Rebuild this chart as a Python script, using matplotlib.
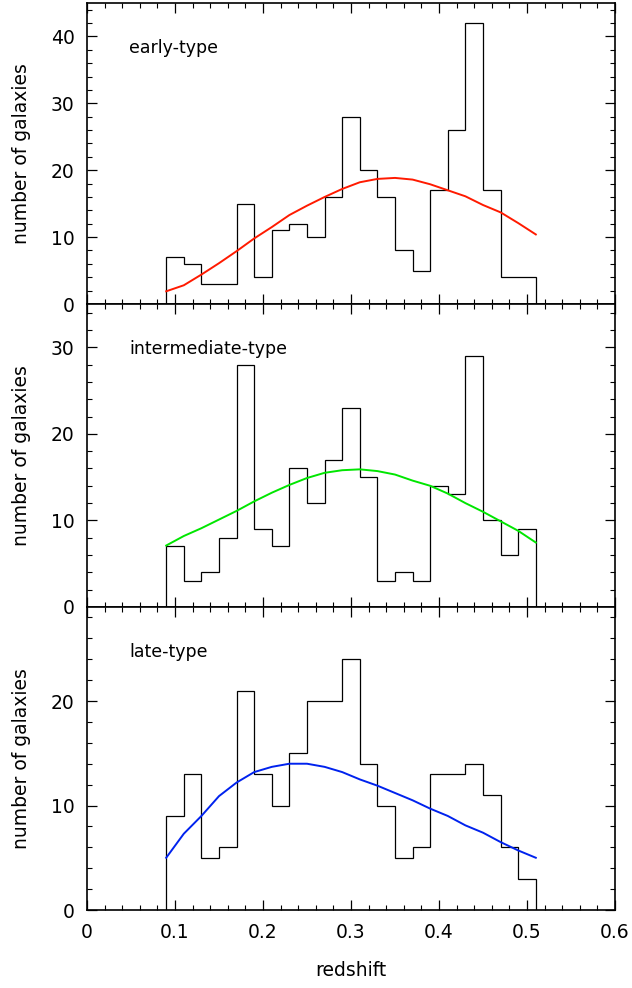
import numpy as np
import matplotlib
matplotlib.use("Agg")
import matplotlib.pyplot as plt
from matplotlib.ticker import MultipleLocator

# bin edges in redshift (21 bins of 0.02)
edges = [0.09, 0.11, 0.13, 0.15, 0.17, 0.19, 0.21, 0.23, 0.25, 0.27, 0.29,
         0.31, 0.33, 0.35, 0.37, 0.39, 0.41, 0.43, 0.45, 0.47, 0.49, 0.51]

early_counts = [7, 6, 3, 3, 15, 4, 11, 12, 10, 16, 28,
                20, 16, 8, 5, 17, 26, 42, 17, 4, 4]
inter_counts = [7, 3, 4, 8, 28, 9, 7, 16, 12, 17, 23,
                15, 3, 4, 3, 14, 13, 29, 10, 6, 9]
late_counts = [9, 13, 5, 6, 21, 13, 10, 15, 20, 20, 24,
               14, 10, 5, 6, 13, 13, 14, 11, 6, 3]

# fitted curves
curve_z = [0.09, 0.11, 0.13, 0.15, 0.17, 0.19, 0.21, 0.23, 0.25, 0.27, 0.29,
           0.31, 0.33, 0.35, 0.37, 0.39, 0.41, 0.43, 0.45, 0.47, 0.49, 0.51]
early_fit = [1.9, 2.8, 4.4, 6.1, 7.9, 9.8, 11.5, 13.3, 14.7, 16.0, 17.2,
             18.2, 18.7, 18.85, 18.6, 17.9, 17.0, 16.1, 14.8, 13.7, 12.1, 10.4]
inter_fit = [7.1, 8.2, 9.1, 10.1, 11.1, 12.2, 13.2, 14.1, 14.9, 15.5, 15.8,
             15.9, 15.7, 15.3, 14.6, 14.0, 13.1, 12.0, 11.0, 9.9, 8.8, 7.45]
late_fit = [5.0, 7.3, 9.0, 10.9, 12.2, 13.2, 13.7, 14.0, 14.0, 13.7, 13.2,
            12.5, 11.9, 11.2, 10.5, 9.7, 9.0, 8.1, 7.4, 6.5, 5.7, 5.0]

labels = ["early-type", "intermediate-type", "late-type"]
ylims = [45, 35, 29]
colors = ["#ff1a00", "#00e600", "#0022ee"]

plt.rcParams["font.family"] = ["DejaVu Sans"]
plt.rcParams["font.size"] = 13.5

fig = plt.figure(figsize=(6.32, 9.88), dpi=100)
left, width = 87 / 632, 528 / 632
panels = [(3, 304), (304, 607), (607, 910)]

counts = [early_counts, inter_counts, late_counts]
fits = [early_fit, inter_fit, late_fit]

for i, (top, bot) in enumerate(panels):
    ax = fig.add_axes([left, 1 - bot / 988, width, (bot - top) / 988])
    ax.stairs(counts[i], edges, color="black", linewidth=0.9)
    ax.plot(curve_z, fits[i], color=colors[i], linewidth=1.4)
    ax.set_xlim(0, 0.6)
    ax.set_ylim(0, ylims[i])
    ax.xaxis.set_major_locator(MultipleLocator(0.1))
    ax.xaxis.set_minor_locator(MultipleLocator(0.02))
    ax.yaxis.set_major_locator(MultipleLocator(10))
    ax.yaxis.set_minor_locator(MultipleLocator(2))
    ax.tick_params(which="both", direction="in", top=True, right=True)
    ax.tick_params(which="major", length=7, width=0.9)
    ax.tick_params(which="minor", length=3.5, width=0.8)
    ax.tick_params(axis="y", pad=9)
    for sp in ax.spines.values():
        sp.set_linewidth(1.2)
    ax.text(0.08, 0.85, labels[i], transform=ax.transAxes, fontsize=12.5,
            va="center", ha="left")
    ax.set_ylabel("number of galaxies", labelpad=14)
    if i < 2:
        ax.set_xticklabels([])
    else:
        ax.set_xticks([0, 0.1, 0.2, 0.3, 0.4, 0.5, 0.6])
        ax.set_xticklabels(["0", "0.1", "0.2", "0.3", "0.4", "0.5", "0.6"])
        ax.tick_params(axis="x", pad=9)
        ax.set_xlabel("redshift", labelpad=14)

fig.savefig("out.png", dpi=100)
